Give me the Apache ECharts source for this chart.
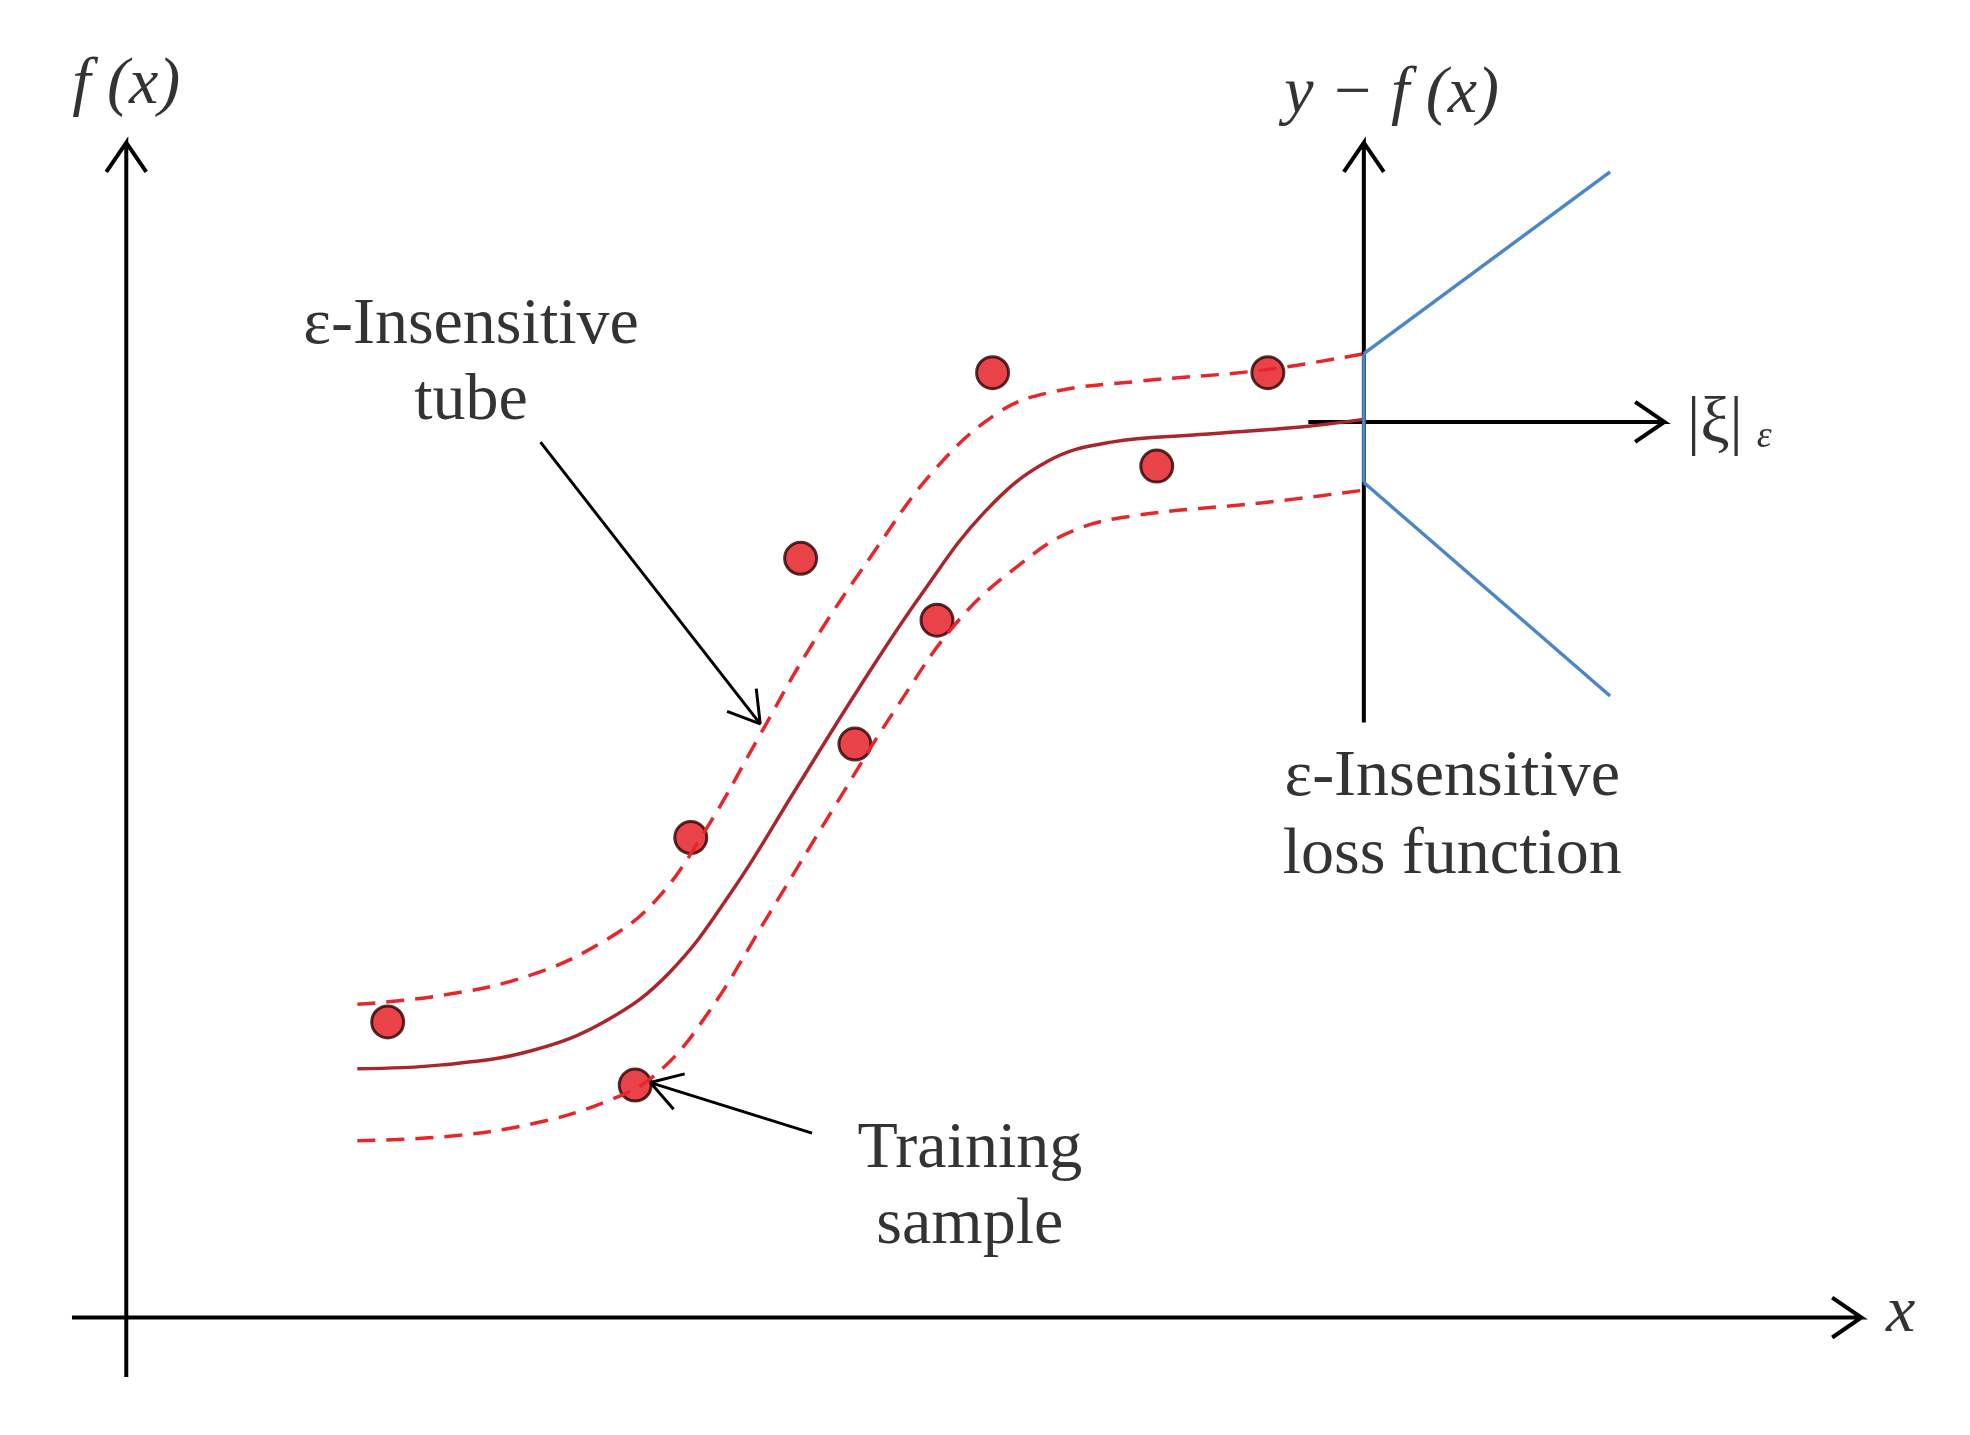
<!DOCTYPE html>
<html><head><meta charset="utf-8">
<script src="https://cdn.jsdelivr.net/npm/echarts@6/dist/echarts.min.js"></script>
<style>html,body{margin:0;padding:0;background:#fff}#c{width:1970px;height:1435px}</style>
</head><body><div id="c"></div>
<script>
// coordinates in reference-image units (1560 x 1136 frame)
const fitCurve = [[283,846],[350,843],[420,832],[480,808],[530,770],[580,705],[630,625],[680,545],[730,470],[780,405],[830,365],[880,350],[950,344],[1030,338],[1080,332]];
const tubeUpper = [[283,795],[350,788],[420,772],[480,744],[520,712],[560,655],[600,585],[640,515],[690,440],[740,372],[790,327],[830,311],[900,302],[1000,293],[1080,280]];
const tubeLower = [[283,903],[350,900],[420,890],[480,872],[520,850],[560,803],[610,722],[660,640],[710,560],[760,490],[810,445],[850,420],[900,408],[1000,398],[1080,388]];
const samples = [[307,809],[503,859],[547,663],[634,442],[677,589],[742,491],[786,295],[916,369],[1004,295]];
const lossUpper = [[1080,280],[1275,136]];
const lossLower = [[1080,382],[1275,551]];
const lossFlat = [[1080,280],[1080,382]];
const axisArrows = [[[100,1090],[100,113]],[[57,1043],[1474,1043]],[[1080,572],[1080,113]],[[1036,334],[1318,334]]];
const pointerArrows = [[[428,350],[602,573]],[[643,897],[515,857]]];
const texts = [
  {t:'f (x)', p:[100,68], it:true},
  {t:'y − f (x)', p:[1102,75], it:true},
  {t:'|ξ|', p:[1358,336], it:false},
  {t:'ε', p:[1397,346], it:true, s:38},
  {t:'x', p:[1505,1040], it:true},
  {t:'ε-Insensitive', p:[373,258]},
  {t:'tube', p:[373,318]},
  {t:'ε-Insensitive', p:[1150,616]},
  {t:'loss function', p:[1150,677]},
  {t:'Training', p:[768,910]},
  {t:'sample', p:[768,970]}
];
function arrowPath(a, b, len, ang){
  const dx=a[0]-b[0], dy=a[1]-b[1], L=Math.hypot(dx,dy), ux=dx/L, uy=dy/L;
  const r=(c,s)=>[b[0]+len*(ux*c-uy*s), b[1]+len*(ux*s+uy*c)];
  const c=Math.cos(ang), s=Math.sin(ang);
  return [a,b,r(c,s),b,r(c,-s)];
}
const series = [];
const lineBase = {type:'line', symbol:'none', silent:true, animation:false};
series.push({...lineBase, data:tubeUpper, smooth:0.4, lineStyle:{color:'#e8262a',width:3.5,type:[18,11]}});
series.push({...lineBase, data:tubeLower, smooth:0.4, lineStyle:{color:'#e8262a',width:3.5,type:[18,11]}});
axisArrows.forEach(([a,b])=>series.push({...lineBase, data:arrowPath(a,b,28,0.6), lineStyle:{color:'#000',width:4,join:'miter'}}));
series.push({...lineBase, data:fitCurve, smooth:0.4, lineStyle:{color:'#a8262c',width:3.5}});
series.push({...lineBase, data:lossUpper, lineStyle:{color:'#4a86c8',width:3.5}});
series.push({...lineBase, data:lossLower, lineStyle:{color:'#4a86c8',width:3.5}});
series.push({...lineBase, data:lossFlat, lineStyle:{color:'#4a86c8',width:3.5}});
pointerArrows.forEach(([a,b])=>series.push({...lineBase, data:arrowPath(a,b,28,0.55), lineStyle:{color:'#000',width:3}}));
series.push({type:'scatter', data:samples, symbolSize:32, animation:false, itemStyle:{color:'#e3141b',borderColor:'#2a0000',borderWidth:3}});
series.push({type:'scatter', symbolSize:0, animation:false, silent:true,
  data:texts.map(o=>({value:o.p, label:{show:true, position:'inside', formatter:o.t, fontFamily:'Liberation Serif', fontStyle:o.it?'italic':'normal', fontSize:o.s||66, color:'#000'}}))});
const chart = echarts.init(document.getElementById('c'));
chart.setOption({
  backgroundColor:'#fff',
  grid:{left:0,right:0,top:0,bottom:0},
  xAxis:{type:'value',min:0,max:1560,show:false},
  yAxis:{type:'value',min:0,max:1136,inverse:true,show:false},
  series
});
</script></body></html>
